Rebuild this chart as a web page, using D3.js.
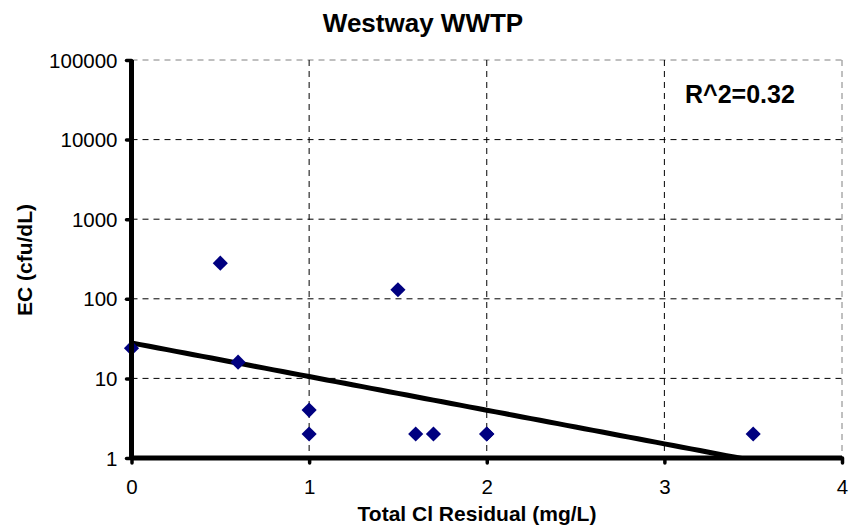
<!DOCTYPE html>
<html>
<head>
<script src="https://d3js.org/d3.v7.min.js"></script>
<style>
  body { margin: 0; background: #fff; }
  text { font-family: "Liberation Sans", Arial, sans-serif; }
</style>
</head>
<body>
<script>

var title = "Westway WWTP";
var xLabel = "Total Cl Residual (mg/L)";
var yLabel = "EC (cfu/dL)";
var rText = "R^2=0.32";

// measured points
var clResidual = [0, 0.5, 0.6, 1, 1, 1.5, 1.6, 1.7, 2, 2, 3.5];
var ecCount    = [24, 280, 16, 4, 2, 130, 2, 2, 2, 2, 2];

// exponential trendline y = a * exp(b * x)
var trendA = 27.9, trendB = -0.973;

var xTicks = [0, 1, 2, 3, 4];
var yTicks = [1, 10, 100, 1000, 10000, 100000];

var W = 849, H = 528;
var margin = {top: 60, right: 7, bottom: 70, left: 131.5};
var width = W - margin.left - margin.right,
    height = H - margin.top - margin.bottom;

var svg = d3.select("body").append("svg")
    .attr("width", W).attr("height", H);

var g = svg.append("g")
    .attr("transform", "translate(" + margin.left + "," + margin.top + ")");

var x = d3.scaleLinear().domain([0, 4]).range([0, width]);
var y = d3.scaleLog().domain([1, 100000]).range([height, 0]);

// grid
g.selectAll(".hgrid").data(yTicks.slice(1)).enter().append("line")
  .attr("x1", 0).attr("x2", width)
  .attr("y1", function(d){ return y(d); }).attr("y2", function(d){ return y(d); })
  .attr("stroke", function(d){ return d == 100000 ? "#808080" : "#000"; })
  .attr("stroke-width", 1)
  .attr("stroke-dasharray", "6,5");

g.selectAll(".vgrid").data(xTicks.slice(1)).enter().append("line")
  .attr("y1", 0).attr("y2", height)
  .attr("x1", function(d){ return x(d); }).attr("x2", function(d){ return x(d); })
  .attr("stroke", function(d){ return d == 4 ? "#808080" : "#000"; })
  .attr("stroke-width", 1)
  .attr("stroke-dasharray", "6,5");

// trendline
g.append("clipPath").attr("id", "clip")
  .append("rect").attr("x", 0).attr("y", 0).attr("width", width).attr("height", height);

var trendPts = d3.range(0, 4.01, 0.05).map(function(v){ return [v, trendA * Math.exp(trendB * v)]; });
g.append("path")
  .datum(trendPts)
  .attr("clip-path", "url(#clip)")
  .attr("fill", "none")
  .attr("stroke", "#000")
  .attr("stroke-width", 5)
  .attr("d", d3.line().x(function(d){ return x(d[0]); }).y(function(d){ return y(d[1]); }));

// points
var pts = clResidual.map(function(v, i){ return {x: v, y: ecCount[i]}; });
g.selectAll(".pt").data(pts).enter().append("path")
  .attr("d", d3.symbol().type(d3.symbolSquare).size(115))
  .attr("transform", function(d){ return "translate(" + x(d.x) + "," + y(d.y) + ") rotate(45)"; })
  .attr("fill", "#000080");

// axes
var xAxis = d3.axisBottom(x).tickValues(xTicks).tickSize(5).tickPadding(16).tickFormat(d3.format("d"));
var yAxis = d3.axisLeft(y).tickValues(yTicks).tickSize(5).tickPadding(9).tickFormat(d3.format("d"));

var gx = g.append("g").attr("transform", "translate(0," + height + ")").call(xAxis);
var gy = g.append("g").call(yAxis);

[gx, gy].forEach(function(a){
  a.select(".domain").remove();
  a.selectAll(".tick line").attr("stroke", "#000").attr("stroke-width", 3.5).attr("stroke-linecap", "round");
  a.selectAll(".tick text").attr("font-size", 20.5).attr("fill", "#000")
    .style("font-family", "'Liberation Sans', Arial, sans-serif");
});
gy.selectAll(".tick text").attr("dy", "0.35em");

g.append("line").attr("x1", 0).attr("x2", width).attr("y1", height).attr("y2", height)
  .attr("stroke", "#000").attr("stroke-width", 5);
g.append("line").attr("x1", 0).attr("x2", 0).attr("y1", 0).attr("y2", height)
  .attr("stroke", "#000").attr("stroke-width", 5);

// texts
svg.append("text").attr("x", 423).attr("y", 32).attr("text-anchor", "middle")
  .attr("font-size", 26).attr("font-weight", "bold").text(title);

svg.append("text").attr("x", 477).attr("y", 521).attr("text-anchor", "middle")
  .attr("font-size", 21).attr("font-weight", "bold").text(xLabel);

svg.append("text").attr("transform", "translate(32,260) rotate(-90)").attr("text-anchor", "middle")
  .attr("font-size", 21).attr("font-weight", "bold").text(yLabel);

svg.append("text").attr("x", 685).attr("y", 103)
  .attr("font-size", 25).attr("font-weight", "bold").text(rText);

</script>
</body>
</html>
